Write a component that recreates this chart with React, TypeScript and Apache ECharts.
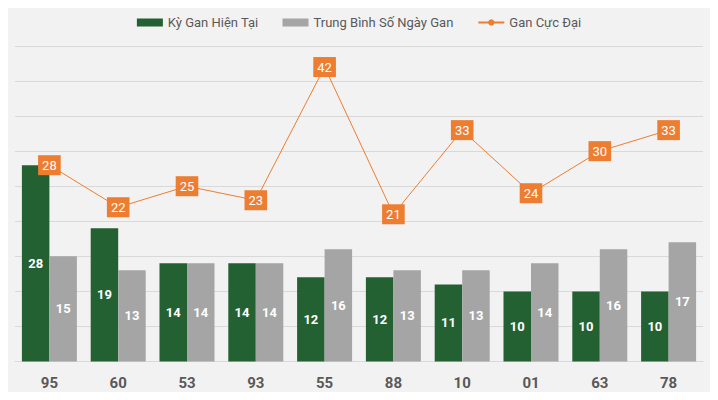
import React, { useEffect, useRef } from "react";
import * as echarts from "echarts";

const categories = ["95", "60", "53", "93", "55", "88", "10", "01", "63", "78"];
const kyGan = [28, 19, 14, 14, 12, 12, 11, 10, 10, 10];
const trungBinh = [15, 13, 14, 14, 16, 13, 13, 14, 16, 17];
const ganCucDai = [28, 22, 25, 23, 42, 21, 33, 24, 30, 33];

export default function App() {
  const ref = useRef<HTMLDivElement>(null);
  useEffect(() => {
    if (!ref.current) return;
    const chart = echarts.init(ref.current, null, { renderer: "svg" });
    const font = "Roboto, 'Noto Sans', sans-serif";
    chart.setOption({
      animation: false,
      backgroundColor: "#f2f2f2",
      textStyle: { fontFamily: font },
      legend: {
        top: 11,
        left: "center",
        itemWidth: 26,
        itemHeight: 8,
        itemGap: 24,
        textStyle: { color: "#595959", fontSize: 13, fontFamily: font },
        data: [
          { name: "Kỳ Gan Hiện Tại", icon: "rect" },
          { name: "Trung Bình Số Ngày Gan", icon: "rect" },
          { name: "Gan Cực Đại" },
        ],
      },
      grid: { left: 15, right: 15, top: 46, bottom: 38.5 },
      xAxis: {
        type: "category",
        data: categories,
        axisLine: { lineStyle: { color: "#d9d9d9" } },
        axisTick: { show: false },
        axisLabel: {
          color: "#595959",
          fontSize: 15,
          fontWeight: "bold",
          margin: 14,
          fontFamily: font,
        },
      },
      yAxis: {
        type: "value",
        min: 0,
        max: 45,
        interval: 5,
        axisLabel: { show: false },
        axisLine: { show: false },
        axisTick: { show: false },
        splitLine: { lineStyle: { color: "#d9d9d9", width: 1 } },
      },
      series: [
        {
          name: "Kỳ Gan Hiện Tại",
          type: "bar",
          data: kyGan,
          barWidth: 27.5,
          barGap: "0%",
          itemStyle: { color: "#246132" },
          label: {
            show: true,
            position: "inside",
            color: "#fff",
            fontSize: 13,
            fontWeight: "bold",
            fontFamily: font,
          },
        },
        {
          name: "Trung Bình Số Ngày Gan",
          type: "bar",
          data: trungBinh,
          barWidth: 27.5,
          barGap: "0%",
          itemStyle: { color: "#a5a5a5" },
          label: {
            show: true,
            position: "inside",
            color: "#fff",
            fontSize: 13,
            fontWeight: "bold",
            fontFamily: font,
          },
        },
        {
          name: "Gan Cực Đại",
          type: "line",
          data: ganCucDai,
          symbol: "circle",
          symbolSize: 6,
          z: 5,
          lineStyle: { color: "#ed7d31", width: 1 },
          itemStyle: { color: "#ed7d31" },
          label: {
            show: true,
            position: "inside",
            color: "#fff",
            fontSize: 13,
            fontFamily: font,
            backgroundColor: "#ed7d31",
            padding: [4, 4, 3, 4],
          },
        },
      ],
    });
    return () => chart.dispose();
  }, []);
  return <div ref={ref} style={{ width: 718, height: 400, margin: -8 }} />;
}
